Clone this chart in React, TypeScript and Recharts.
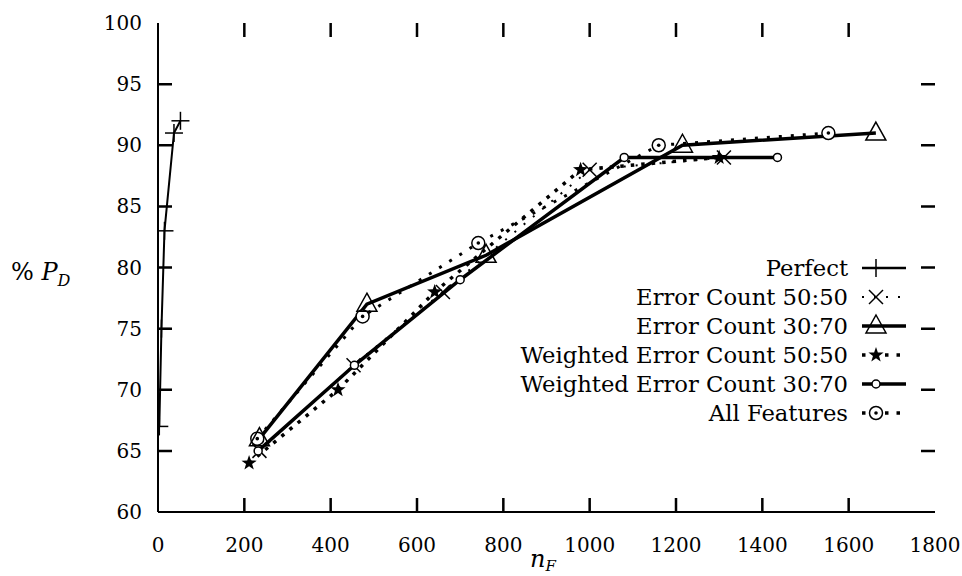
import React from "react";
import { LineChart, Line, XAxis, YAxis, Customized } from "recharts";

const seriesNames = [
  "Perfect",
  "Error Count 50:50",
  "Error Count 30:70",
  "Weighted Error Count 50:50",
  "Weighted Error Count 30:70",
  "All Features",
];

const perfectX = [3, 8, 15, 37, 52];
const perfectY = [67, 75, 83, 91, 92];
const ec5050X = [235, 453, 660, 1000, 1311];
const ec5050Y = [65, 72, 78, 88, 89];
const ec3070X = [235, 484, 760, 1215, 1663];
const ec3070Y = [66, 77, 81, 90, 91];
const w5050X = [211, 417, 641, 979, 1300];
const w5050Y = [64, 70, 78, 88, 89];
const w3070X = [232, 455, 700, 1080, 1435];
const w3070Y = [65, 72, 79, 89, 89];
const allX = [230, 474, 742, 1160, 1553];
const allY = [66, 76, 82, 90, 91];

const xTicks = [0, 200, 400, 600, 800, 1000, 1200, 1400, 1600, 1800];
const yTicks = [60, 65, 70, 75, 80, 85, 90, 95, 100];

const FONT = "DejaVu Serif";
const TICK = 14;

// plot box that follows from the chart margins and axis sizes below
const MARGIN = { top: 23, right: 27, bottom: 0, left: 0 };
const Y_AXIS_W = 158;
const X_AXIS_H = 64;
const W = 962;
const H = 576;
const PL = MARGIN.left + Y_AXIS_W;
const PR = W - MARGIN.right;
const PT = MARGIN.top;
const PB = H - MARGIN.bottom - X_AXIS_H;

const toPts = (xs: number[], ys: number[]) => xs.map((x, i) => ({ x, y: ys[i] }));

type Kind = "plus" | "cross" | "triangle" | "star" | "circle" | "odot";

function Marker({ kind, cx, cy }: { kind: Kind; cx: number; cy: number }) {
  const s = { stroke: "#000", strokeWidth: 1.5, fill: "none" };
  if (kind === "plus") {
    return (
      <g {...s}>
        <line x1={cx - 9} x2={cx + 9} y1={cy} y2={cy} />
        <line x1={cx} x2={cx} y1={cy - 9} y2={cy + 9} />
      </g>
    );
  }
  if (kind === "cross") {
    return (
      <g {...s}>
        <line x1={cx - 7} x2={cx + 7} y1={cy - 7} y2={cy + 7} />
        <line x1={cx - 7} x2={cx + 7} y1={cy + 7} y2={cy - 7} />
      </g>
    );
  }
  if (kind === "triangle") {
    return (
      <polygon
        points={`${cx},${cy - 11} ${cx + 10},${cy + 7} ${cx - 10},${cy + 7}`}
        stroke="#000"
        strokeWidth={1.5}
        fill="none"
      />
    );
  }
  if (kind === "star") {
    const pts: string[] = [];
    for (let i = 0; i < 10; i++) {
      const r = i % 2 === 0 ? 8 : 3.2;
      const a = -Math.PI / 2 + (i * Math.PI) / 5;
      pts.push(`${cx + r * Math.cos(a)},${cy + r * Math.sin(a)}`);
    }
    return <polygon points={pts.join(" ")} fill="#000" />;
  }
  if (kind === "circle") {
    return <circle cx={cx} cy={cy} r={4} {...s} fill="#fff" />;
  }
  return (
    <g>
      <circle cx={cx} cy={cy} r={6.5} stroke="#000" strokeWidth={1.5} fill="#fff" />
      <circle cx={cx} cy={cy} r={1.8} fill="#000" />
    </g>
  );
}

const dotFor = (kind: Kind) => (p: any) => (
  <Marker key={`${kind}-${p.index}`} kind={kind} cx={p.cx} cy={p.cy} />
);

const legendStyles: { kind: Kind; width: number; dash?: string }[] = [
  { kind: "plus", width: 2.5 },
  { kind: "cross", width: 2, dash: "2 10" },
  { kind: "triangle", width: 3.5 },
  { kind: "star", width: 3.5, dash: "3.5 8" },
  { kind: "circle", width: 3.5 },
  { kind: "odot", width: 3.5, dash: "3.5 8" },
];

function Decorations() {
  const rowY = [268, 297, 326, 355, 384, 413];
  const sx = (v: number) => PL + ((v - xTicks[0]) / (xTicks[xTicks.length - 1] - xTicks[0])) * (PR - PL);
  const sy = (v: number) => PB - ((v - yTicks[0]) / (yTicks[yTicks.length - 1] - yTicks[0])) * (PB - PT);
  const tickPaths =
    xTicks.slice(1, -1).map((t) => `M${sx(t)},${PB}V${PB - TICK}M${sx(t)},${PT}V${PT + TICK}`).join("") +
    yTicks.slice(1, -1).map((t) => `M${PL},${sy(t)}H${PL + TICK}M${PR - TICK},${sy(t)}H${PR}`).join("");
  return (
    <g>
      <path d={tickPaths} stroke="#000" strokeWidth={2.5} fill="none" />
      {seriesNames.map((name, i) => (
        <g key={name}>
          <text
            x={848}
            y={rowY[i] + 8}
            textAnchor="end"
            fontSize={22.7}
            fontFamily={FONT}
            fill="#000"
          >
            {name}
          </text>
          <line
            x1={862}
            x2={906}
            y1={rowY[i]}
            y2={rowY[i]}
            stroke="#000"
            strokeWidth={legendStyles[i].width}
            strokeDasharray={legendStyles[i].dash}
          />
          <Marker kind={legendStyles[i].kind} cx={876} cy={rowY[i]} />
        </g>
      ))}
      <text x={11} y={280} fontSize={24} fontFamily={FONT} fill="#000">
        %{" "}
        <tspan fontStyle="italic">P</tspan>
        <tspan fontStyle="italic" fontSize={16} dy={6}>
          D
        </tspan>
      </text>
      <text x={530} y={567} fontSize={24} fontFamily={FONT} fill="#000">
        <tspan fontStyle="italic">n</tspan>
        <tspan fontStyle="italic" fontSize={15} dy={4}>
          F
        </tspan>
      </text>
    </g>
  );
}

const tickStyle = { fill: "#000", fontSize: 20, fontFamily: FONT };
const axisLine = { stroke: "#000", strokeWidth: 2 };

export default function App() {
  return (
    <div style={{ position: "absolute", left: 0, top: 0, width: W, height: H, background: "#fff" }}>
      <LineChart width={W} height={H} margin={MARGIN}>
        <XAxis
          xAxisId="b"
          type="number"
          dataKey="x"
          domain={[0, 1800]}
          ticks={xTicks}
          height={X_AXIS_H}
          tick={tickStyle}
          tickSize={0}
          tickMargin={26}
          axisLine={axisLine}
          tickLine={false}
          allowDataOverflow
        />
        <XAxis
          xAxisId="t"
          orientation="top"
          type="number"
          dataKey="x"
          domain={[0, 1800]}
          ticks={xTicks}
          height={0}
          tick={false}
          axisLine={axisLine}
          tickLine={false}
          allowDataOverflow
        />
        <YAxis
          yAxisId="l"
          type="number"
          domain={[60, 100]}
          ticks={yTicks}
          width={Y_AXIS_W}
          tick={tickStyle}
          tickSize={0}
          tickMargin={16}
          axisLine={axisLine}
          tickLine={false}
          allowDataOverflow
        />
        <YAxis
          yAxisId="r"
          orientation="right"
          type="number"
          domain={[60, 100]}
          ticks={yTicks}
          width={0}
          tick={false}
          axisLine={axisLine}
          tickLine={false}
          allowDataOverflow
        />
        <Line
          xAxisId="b"
          yAxisId="l"
          data={toPts(ec5050X, ec5050Y)}
          dataKey="y"
          stroke="#000"
          strokeWidth={2}
          strokeDasharray="2 10"
          dot={dotFor("cross")}
          isAnimationActive={false}
        />
        <Line
          xAxisId="b"
          yAxisId="l"
          data={toPts(w5050X, w5050Y)}
          dataKey="y"
          stroke="#000"
          strokeWidth={3.5}
          strokeDasharray="3.5 7"
          dot={dotFor("star")}
          isAnimationActive={false}
        />
        <Line
          xAxisId="b"
          yAxisId="l"
          data={toPts(allX, allY)}
          dataKey="y"
          stroke="#000"
          strokeWidth={3}
          strokeDasharray="3 9"
          dot={dotFor("odot")}
          isAnimationActive={false}
        />
        <Line
          xAxisId="b"
          yAxisId="l"
          data={toPts(perfectX, perfectY)}
          dataKey="y"
          stroke="#000"
          strokeWidth={2}
          dot={dotFor("plus")}
          isAnimationActive={false}
        />
        <Line
          xAxisId="b"
          yAxisId="l"
          data={toPts(ec3070X, ec3070Y)}
          dataKey="y"
          stroke="#000"
          strokeWidth={3.5}
          dot={dotFor("triangle")}
          isAnimationActive={false}
        />
        <Line
          xAxisId="b"
          yAxisId="l"
          data={toPts(w3070X, w3070Y)}
          dataKey="y"
          stroke="#000"
          strokeWidth={3.5}
          dot={dotFor("circle")}
          isAnimationActive={false}
        />
        <Customized component={Decorations} />
      </LineChart>
    </div>
  );
}
